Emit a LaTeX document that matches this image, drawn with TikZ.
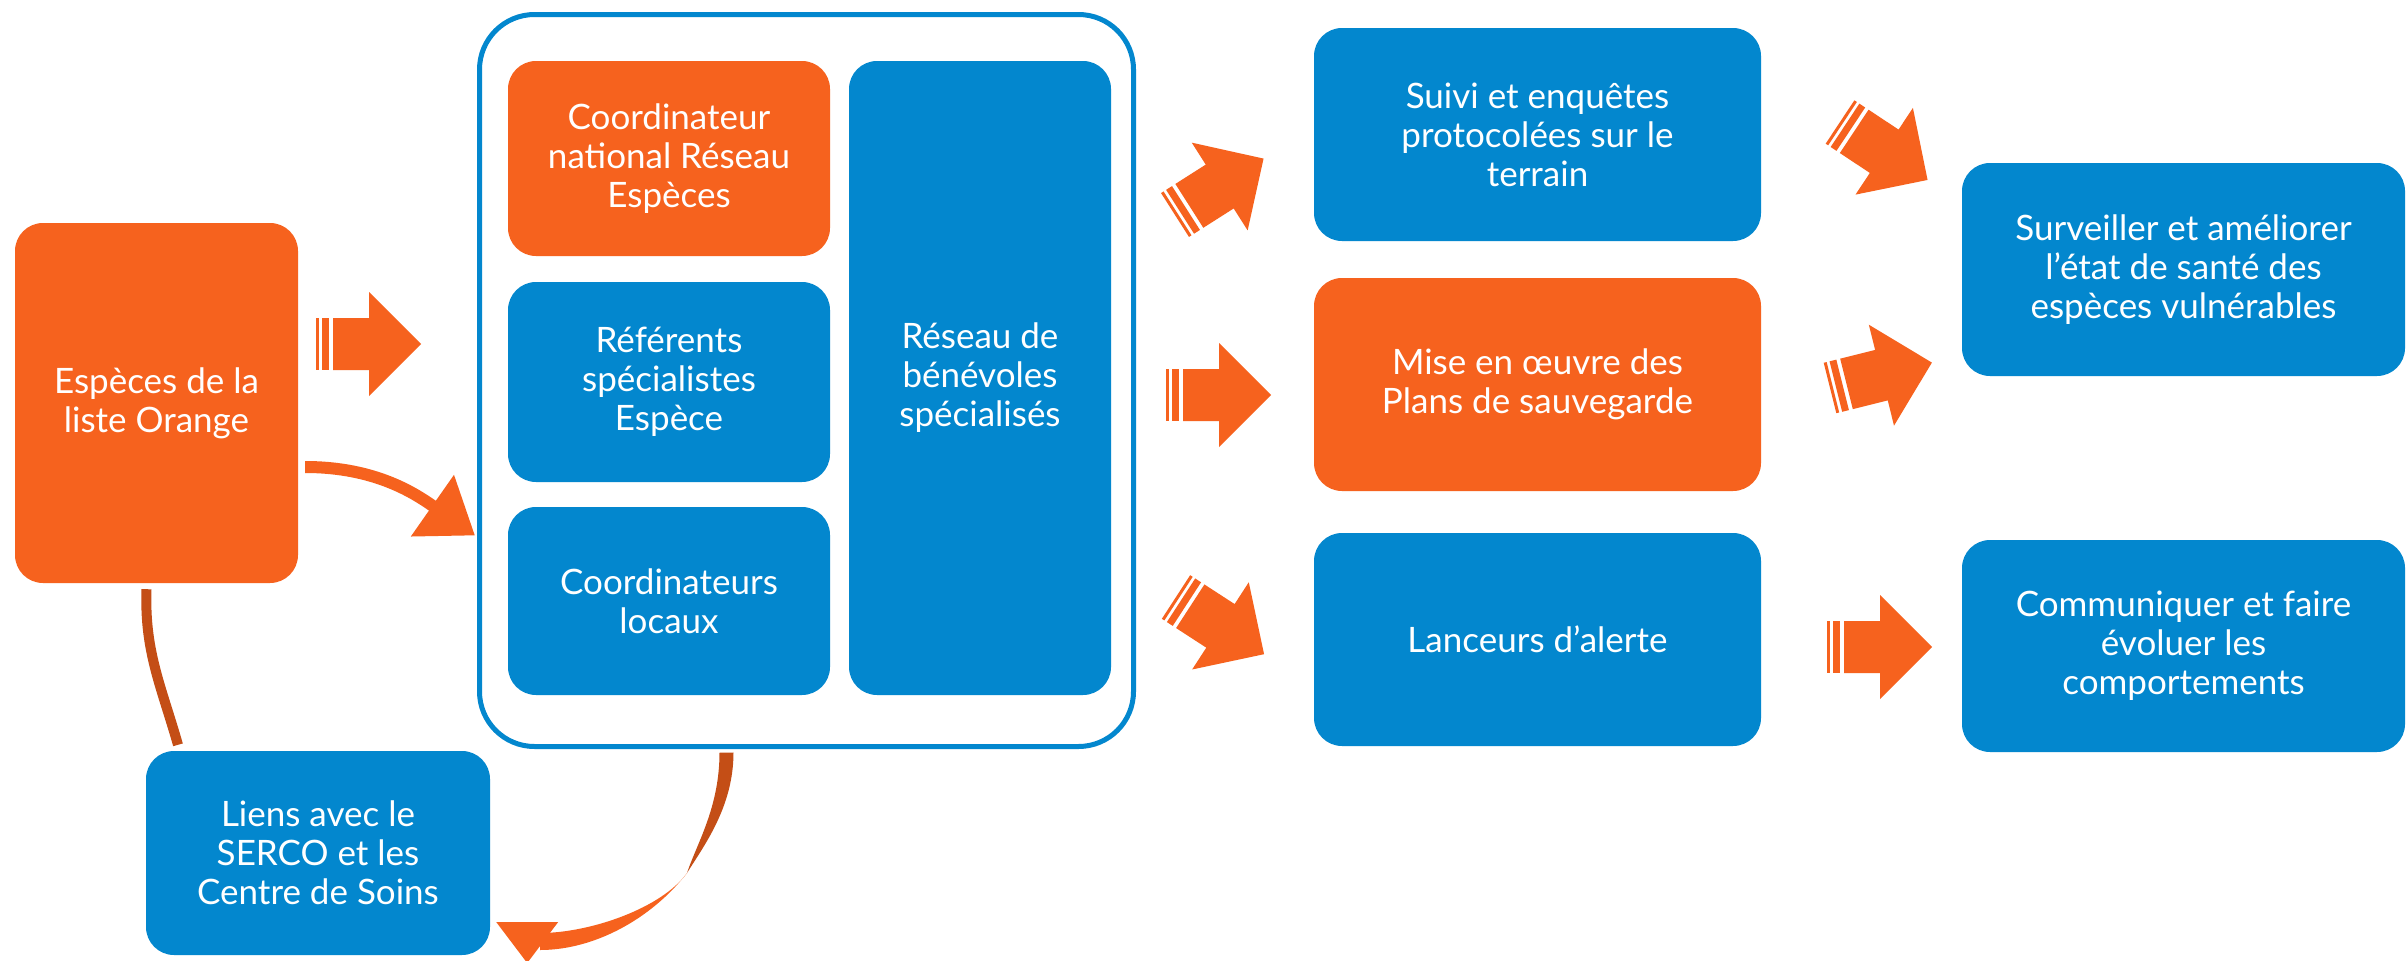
\documentclass[tikz,border=0pt]{standalone}
\usepackage{fontspec}
\setmainfont{Lato}
\usetikzlibrary{arrows.meta}
\definecolor{orangeLO}{RGB}{246,98,30}
\definecolor{bleuLO}{RGB}{3,135,206}
\definecolor{brunLO}{RGB}{196,78,22}

\begin{document}
\begin{tikzpicture}
  [x=1pt, y=1pt,
   every node/.style={rectangle, rounded corners=28pt, text=white, align=center, inner sep=0pt,
                      font=\fontsize{35}{39}\selectfont},
   boitebleue/.style={fill=bleuLO},
   boiteorange/.style={fill=orangeLO},
   grossefleche/.pic={
     \fill[orangeLO, sharp corners] (0,-26) rectangle (3,26);
     \fill[orangeLO, sharp corners] (6,-26) rectangle (13,26);
     \fill[orangeLO, sharp corners] (17,-26) -- (53,-26) -- (53,-52) -- (105,0) -- (53,52) -- (53,26) -- (17,26) -- cycle;
   }]
  \fill[white] (0,0) rectangle (2407,-961);
  \useasboundingbox (0,0) rectangle (2407,-961);

  \node[boiteorange, minimum width=283pt, minimum height=360pt] (especes) at (156.5,-403) {Espèces de la\\liste Orange};
  \node[draw=bleuLO, line width=5pt, rounded corners=55pt, minimum width=654pt, minimum height=732pt] (cadre) at (806.5,-380.5) {};
  \node[boiteorange, minimum width=322pt, minimum height=195pt] (national) at (669,-158.5) {Coordinateur\\national Réseau\\Espèces};
  \node[boitebleue, minimum width=322pt, minimum height=200pt] (referents) at (669,-382) {Référents\\spécialistes\\Espèce};
  \node[boitebleue, minimum width=322pt, minimum height=188pt] (locaux) at (669,-601) {Coordinateurs\\locaux};
  \node[boitebleue, minimum width=262pt, minimum height=634pt] (reseau) at (980,-378) {Réseau de\\bénévoles\\spécialisés};
  \node[boitebleue, minimum width=344pt, minimum height=204pt] (liens) at (318,-853) {Liens avec le\\SERCO et les\\Centre de Soins};
  \node[boitebleue, minimum width=447pt, minimum height=213pt] (suivi) at (1537.5,-134.5) {Suivi et enquêtes\\protocolées sur le\\terrain};
  \node[boiteorange, minimum width=447pt, minimum height=213pt] (plans) at (1537.5,-384.5) {Mise en œuvre des\\Plans de sauvegarde};
  \node[boitebleue, minimum width=447pt, minimum height=213pt] (lanceurs) at (1537.5,-639.5) {Lanceurs d’alerte};
  \node[boitebleue, minimum width=443pt, minimum height=213pt] (surveiller) at (2183.5,-269.5) {Surveiller et améliorer\\l’état de santé des\\espèces vulnérables};
  \node[boitebleue, minimum width=443pt, minimum height=212pt] (communiquer) at (2183.5,-646) {Communiquer et faire\\évoluer les\\comportements};

  \pic at (316,-344) {grossefleche};
  \pic[rotate=32.5] at (1175,-215) {grossefleche};
  \pic at (1166,-395) {grossefleche};
  \pic[rotate=-33] at (1176,-597) {grossefleche};
  \pic[rotate=-33.5] at (1840,-122) {grossefleche};
  \pic[rotate=14] at (1830,-388) {grossefleche};
  \pic at (1827,-647) {grossefleche};

  \draw[orangeLO, line width=12pt, -{Triangle[width=72pt,length=52pt]}]
    ([xshift=7pt,yshift=-64pt]especes.east) to[out=0,in=145] ([xshift=-2pt,yshift=-155pt]cadre.west);
  \draw[brunLO, line width=10pt]
    ([xshift=-10pt,yshift=-6pt]especes.south) to[out=-92,in=106] ([xshift=-140pt,yshift=6pt]liens.north);

  \coordinate (depart) at ([xshift=-80pt,yshift=-3.5pt]cadre.south);
  \coordinate (torsion) at (687,-873);
  \coordinate (arrivee) at ([xshift=50pt,yshift=-88pt]liens.east);
  \fill[brunLO] ([xshift=-7pt]depart) .. controls +(0,-55) and +(10,30) .. (torsion)
    .. controls +(16,26) and +(0,-55) .. ([xshift=7pt]depart) -- cycle;
  \fill[orangeLO] (torsion) .. controls +(-35,-45) and +(55,0) .. ([yshift=-9pt]arrivee)
    -- ([yshift=8pt]arrivee) .. controls +(50,0) and +(-25,-35) .. (torsion) -- cycle;
  \fill[orangeLO] ([xshift=-44pt,yshift=19pt]arrivee) -- ([xshift=18pt,yshift=19pt]arrivee)
    -- ([xshift=-13pt,yshift=-22pt]arrivee) -- cycle;
\end{tikzpicture}
\end{document}
